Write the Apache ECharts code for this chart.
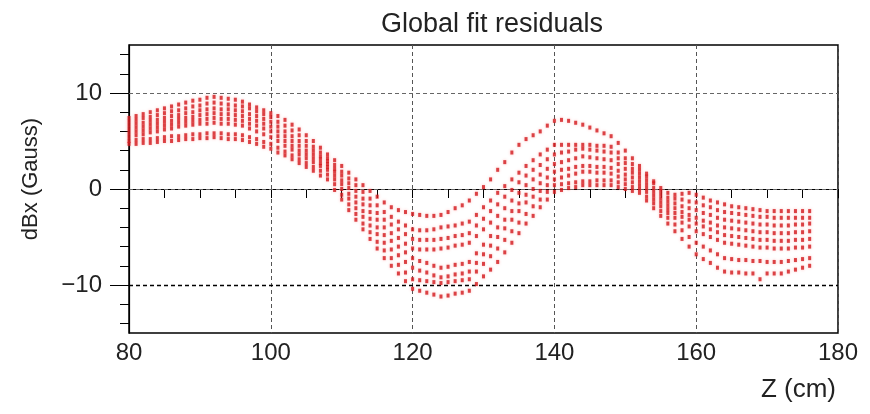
<!DOCTYPE html>
<html><head><meta charset="utf-8">
<script src="https://cdn.jsdelivr.net/npm/echarts@6/dist/echarts.min.js"></script>
<style>html,body{margin:0;padding:0;background:#fff}#c{width:870px;height:414px}</style>
</head><body><div id="c"></div><script>
const zPos = [80,81,82,83,84,85,86,87,88,89,90,91,92,93,94,95,96,97,98,99,100,
101,102,103,104,105,106,107,108,109,110,111,112,113,114,115,116,117,118,119,120,
121,122,123,124,125,126,127,128,129,130,131,132,133,134,135,136,137,138,139,140,
141,142,143,144,145,146,147,148,149,150,151,152,153,154,155,156,157,158,159,160,
161,162,163,164,165,166,167,168,169,170,171,172,173,174,175,176];

const curve1 = [7.4,7.6,7.8,8.0,8.2,8.4,8.6,8.8,9.0,9.2,9.3,9.5,9.6,9.5,9.4,9.3,9.1,8.8,8.5,8.2,7.9,
7.6,7.2,6.7,6.2,5.6,5.0,4.3,3.6,3.0,2.4,1.7,1.0,0.4,-0.2,-0.8,-1.4,-1.9,-2.2,-2.4,-2.6,
-2.7,-2.8,-2.8,-2.7,-2.4,-2.0,-1.7,-1.2,-0.5,0.2,1.0,2.0,2.8,3.8,4.6,5.2,5.6,6.0,6.6,7.1,
7.2,7.1,6.9,6.7,6.4,6.1,5.8,5.5,4.8,4.0,3.2,2.4,1.6,0.8,0.1,-0.4,-0.6,-0.5,-0.4,-0.6,
-0.9,-1.2,-1.4,-1.6,-1.8,-1.9,-2.0,-2.1,-2.2,-2.3,-2.3,-2.3,-2.3,-2.3,-2.3,-2.3];
const curve2 = [7.0,7.2,7.4,7.5,7.7,7.9,8.1,8.2,8.4,8.6,8.7,8.9,9.0,8.9,8.8,8.7,8.6,8.4,8.1,7.8,7.5,
7.0,6.6,6.1,5.6,5.0,4.4,3.8,3.2,2.5,1.8,1.1,0.4,-0.3,-1.0,-1.7,-2.4,-2.9,-3.4,-3.8,-4.2,
-4.3,-4.3,-4.2,-4.0,-3.9,-3.8,-3.6,-3.4,-2.7,-1.9,-1.2,-0.4,0.3,1.0,1.7,2.4,3.0,3.6,4.1,4.6,
4.6,4.6,4.6,4.6,4.6,4.5,4.5,4.4,3.8,3.2,2.6,2.0,1.3,0.6,-0.2,-0.9,-1.0,-1.1,-1.3,-1.4,
-1.7,-1.9,-2.2,-2.4,-2.5,-2.6,-2.7,-2.8,-2.9,-2.9,-3.0,-3.0,-3.0,-3.0,-3.0,-3.0];
const curve3 = [6.6,6.8,6.9,7.1,7.2,7.4,7.6,7.7,7.9,8.0,8.2,8.3,8.4,8.3,8.3,8.2,8.1,7.8,7.6,7.3,7.0,
6.5,6.0,5.5,5.0,4.5,4.0,3.4,2.9,2.1,1.4,0.6,-0.2,-1.0,-1.7,-2.5,-3.2,-3.7,-4.2,-4.7,-5.2,
-5.3,-5.3,-5.3,-5.2,-5.1,-4.9,-4.8,-4.6,-3.8,-3.1,-2.3,-1.6,-0.8,-0.1,0.7,1.4,2.0,2.5,3.1,3.6,
3.8,3.9,4.1,4.2,4.1,4.0,3.9,3.8,3.2,2.7,2.1,1.6,0.9,0.1,-0.6,-1.3,-1.5,-1.8,-2.0,-2.2,
-2.5,-2.7,-3.0,-3.2,-3.3,-3.4,-3.5,-3.6,-3.7,-3.7,-3.8,-3.8,-3.8,-3.7,-3.7,-3.6];
const curve4 = [6.2,6.4,6.5,6.7,6.8,7.0,7.1,7.3,7.4,7.5,7.7,7.8,7.9,7.8,7.8,7.7,7.6,7.3,7.1,6.8,6.5,
6.0,5.5,5.0,4.5,4.0,3.6,3.1,2.6,1.8,0.9,0.1,-0.8,-1.6,-2.4,-3.2,-4.0,-4.6,-5.1,-5.7,-6.2,
-6.3,-6.3,-6.3,-6.2,-6.1,-5.9,-5.8,-5.6,-4.9,-4.2,-3.5,-2.8,-2.0,-1.2,-0.4,0.4,1.0,1.5,2.1,2.6,
2.8,3.0,3.2,3.4,3.3,3.2,3.1,3.0,2.6,2.1,1.7,1.2,0.5,-0.3,-1.0,-1.7,-2.0,-2.4,-2.7,-3.0,
-3.3,-3.5,-3.8,-4.0,-4.1,-4.2,-4.3,-4.4,-4.5,-4.5,-4.6,-4.6,-4.6,-4.5,-4.5,-4.4];
const curve5 = [5.8,6.0,6.1,6.3,6.4,6.6,6.7,6.9,7.0,7.1,7.2,7.3,7.4,7.3,7.3,7.2,7.1,6.8,6.6,6.3,6.0,
5.5,5.0,4.5,4.0,3.6,3.2,2.7,2.3,1.4,0.5,-0.5,-1.4,-2.3,-3.1,-4.0,-4.8,-5.4,-6.0,-6.6,-7.2,
-7.5,-7.7,-8.0,-8.2,-8.1,-7.9,-7.8,-7.6,-6.7,-5.8,-4.9,-4.0,-3.2,-2.3,-1.5,-0.6,0.0,0.6,1.2,1.8,
2.0,2.1,2.3,2.4,2.4,2.3,2.3,2.2,1.9,1.5,1.2,0.8,0.1,-0.7,-1.4,-2.1,-2.5,-2.9,-3.2,-3.6,
-3.9,-4.2,-4.5,-4.8,-4.9,-5.0,-5.1,-5.2,-5.3,-5.3,-5.4,-5.4,-5.4,-5.3,-5.3,-5.2];
const curve6 = [5.4,5.6,5.7,5.9,6.0,6.2,6.3,6.5,6.6,6.7,6.8,6.8,6.9,6.8,6.8,6.7,6.6,6.3,6.0,5.7,5.4,
5.0,4.5,4.1,3.6,3.2,2.8,2.4,2.0,1.0,0.0,-1.0,-2.0,-2.9,-3.8,-4.7,-5.6,-6.3,-6.9,-7.6,-8.2,
-8.5,-8.7,-9.0,-9.2,-9.1,-8.9,-8.8,-8.6,-7.7,-6.8,-5.9,-5.0,-4.1,-3.2,-2.3,-1.4,-0.8,-0.2,0.4,1.0,
1.2,1.4,1.6,1.8,1.8,1.7,1.7,1.6,1.3,1.0,0.7,0.4,-0.3,-1.1,-1.8,-2.5,-3.0,-3.5,-3.9,-4.4,
-4.7,-5.0,-5.3,-5.6,-5.7,-5.8,-5.9,-6.0,-6.1,-6.1,-6.2,-6.2,-6.2,-6.1,-6.1,-6.0];
const curve7 = [5.0,5.1,5.2,5.2,5.3,5.4,5.5,5.5,5.6,5.7,5.7,5.8,5.8,5.8,5.7,5.7,5.6,5.4,5.2,4.9,4.7,
4.3,3.9,3.5,3.1,2.7,2.3,1.9,1.5,0.5,-0.6,-1.6,-2.6,-3.6,-4.5,-5.5,-6.4,-7.2,-7.9,-8.7,-9.4,
-9.5,-9.6,-9.7,-9.8,-9.7,-9.6,-9.5,-9.4,-8.6,-7.8,-7.0,-6.2,-5.3,-4.4,-3.5,-2.6,-1.8,-1.1,-0.3,0.4,
0.5,0.6,0.7,0.8,0.8,0.9,0.9,0.9,0.7,0.5,0.2,0.0,-0.8,-1.5,-2.3,-3.0,-3.7,-4.3,-5.0,-5.6,
-6.0,-6.4,-6.8,-7.2,-7.3,-7.4,-7.4,-7.5,-7.5,-7.6,-7.6,-7.6,-7.5,-7.4,-7.3,-7.2];
const curve8 = [4.7,4.7,4.8,4.8,4.9,5.0,5.0,5.1,5.2,5.2,5.3,5.3,5.4,5.3,5.2,5.2,5.1,4.9,4.7,4.4,4.2,
3.8,3.5,3.1,2.7,2.3,1.9,1.4,1.0,-0.1,-1.1,-2.2,-3.2,-4.2,-5.2,-6.2,-7.2,-8.0,-8.8,-9.6,-10.4,
-10.6,-10.8,-11.0,-11.2,-11.1,-10.9,-10.8,-10.6,-9.9,-9.1,-8.4,-7.6,-6.6,-5.6,-4.6,-3.6,-2.8,-1.9,-1.1,-0.3,
-0.1,0.1,0.2,0.4,0.4,0.4,0.4,0.4,0.2,0.0,-0.2,-0.4,-1.2,-2.0,-2.8,-3.6,-4.4,-5.2,-6.0,-6.8,
-7.3,-7.7,-8.2,-8.6,-8.7,-8.7,-8.8,-8.8,-9.4,-8.8,-8.8,-8.8,-8.6,-8.4,-8.2,-8.0];

const yLabelValues = [-10, 0, 10];
const yMinorTicks = [-14,-12,-8,-6,-4,-2,2,4,6,8,12,14];
const yGridValues = [10, 0, -10];

const FONT = 'Liberation Sans';
const curves = [curve1, curve2, curve3, curve4, curve5, curve6, curve7, curve8];

const series = curves.map((c, k) => {
  const s = {
    type: 'scatter',
    data: zPos.map((z, i) => [z, c[i]]),
    symbol: 'rect',
    symbolSize: [3, 4],
    itemStyle: { color: '#d21a1e', shadowBlur: 3, shadowColor: 'rgba(255,90,90,0.5)' },
    silent: true,
    z: 3
  };
  if (k === 0) {
    s.markLine = {
      silent: true,
      symbol: ['none', 'none'],
      label: { show: false },
      z: 1,
      lineStyle: { type: [4, 3], color: '#666', width: 1 },
      data: yGridValues.map(v => v === -10
        ? { yAxis: v, lineStyle: { type: [4, 3], color: '#000', width: 1.3 } }
        : { yAxis: v })
    };
  }
  return s;
});

const chart = echarts.init(document.getElementById('c'), null, { renderer: 'canvas' });
chart.setOption({
  animation: false,
  backgroundColor: '#fff',
  title: {
    text: 'Global fit residuals',
    left: 487, top: 6, textAlign: 'center',
    textStyle: { fontFamily: FONT, fontWeight: 'normal', fontSize: 27, color: '#222' }
  },
  graphic: [
    { type: 'text', x: 836, y: 390, silent: true,
      style: { text: 'Z (cm)', fontFamily: FONT, fontSize: 26, fill: '#222', textAlign: 'right', textVerticalAlign: 'middle' } },
    { type: 'text', x: 31, y: 179, rotation: Math.PI / 2, silent: true,
      style: { text: 'dBx (Gauss)', fontFamily: FONT, fontSize: 22, fill: '#222', textAlign: 'center', textVerticalAlign: 'middle' } }
  ],
  grid: { left: 129, right: 32, top: 45, bottom: 81, show: true, borderColor: '#000', borderWidth: 1.5, backgroundColor: 'transparent' },
  xAxis: {
    type: 'value', min: 80, max: 180, interval: 20,
    axisLine: { lineStyle: { color: '#000', width: 1.2 } },
    axisTick: { length: 9, lineStyle: { color: '#000' } },
    minorTick: { show: true, splitNumber: 4, length: 9, lineStyle: { color: '#000' } },
    axisLabel: { fontFamily: FONT, fontSize: 24, color: '#222', margin: 8 },
    splitLine: { show: true, lineStyle: { type: [4, 3], color: '#555', width: 1 } }
  },
  yAxis: [{
    type: 'value', min: -15, max: 15, interval: 5,
    axisLine: { lineStyle: { color: '#000', width: 1.2 } },
    axisTick: { customValues: yLabelValues, length: 19, lineStyle: { color: '#000' } },
    axisLabel: {
      customValues: yLabelValues,
      fontFamily: FONT, fontSize: 24, color: '#222', margin: 27,
      formatter: v => yLabelValues.indexOf(v) >= 0 ? String(v).replace('-', '\u2212') : ''
    },
    splitLine: { show: false }
  }, {
    type: 'value', min: -15, max: 15, position: 'left',
    axisLine: { show: false },
    axisTick: { show: true, customValues: yMinorTicks, length: 9, lineStyle: { color: '#000' } },
    axisLabel: { show: false },
    splitLine: { show: false }
  }],
  series: series
});
</script></body></html>
